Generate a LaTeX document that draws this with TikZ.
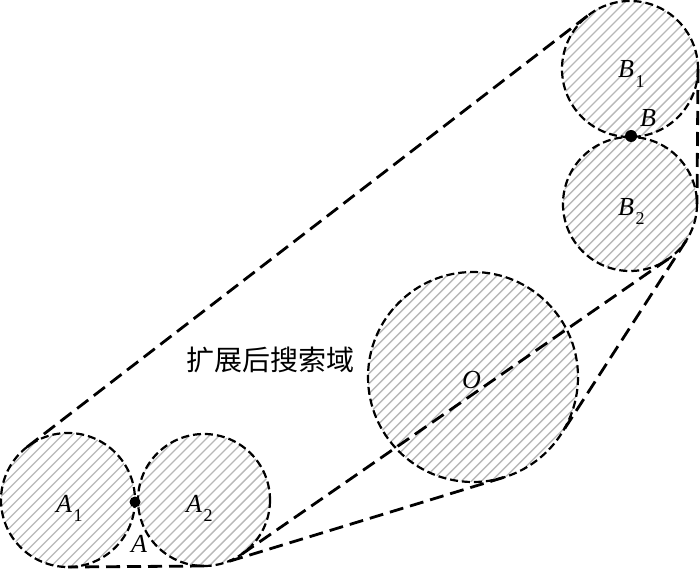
\documentclass[tikz,border=0pt]{standalone}
\usepackage{fontspec}
\setmainfont{Liberation Serif}
\newfontfamily\cjk{Noto Sans CJK SC}
\newcommand\sbx[1]{\kern1.5pt\raisebox{-0.36em}{\fontsize{18}{18}\selectfont\upshape #1}}
\newcommand\hatchdisc[3]{%
  \begin{scope}
    \clip (#1,#2) circle[radius=#3];
    \pgfmathsetmacro\ka{#1+#2-1.5*#3}
    \pgfmathsetmacro\kb{\ka+10}
    \pgfmathsetmacro\kc{#1+#2+1.5*#3}
    \foreach \k in {\ka,\kb,...,\kc}{
      \draw[hatchline] (\k-#2-#3-5, #2+#3+5) -- (\k-#2+#3+5, #2-#3-5);
    }
  \end{scope}}
\begin{document}
\begin{tikzpicture}[x=1pt,y=-1pt,
  circ/.style={draw=black, line width=2.2pt, dash pattern=on 8pt off 4pt},
  hull/.style={draw=black, line width=2.8pt, dash pattern=on 14pt off 7pt},
  hatchline/.style={draw=black!28, line width=1.4pt},
  lab/.style={font=\fontsize{26}{26}\selectfont\itshape, inner sep=0pt, anchor=base west},
  dotmark/.style={fill=black}
]
\useasboundingbox (0,0) rectangle (700,569);
% centres
\coordinate (cA1) at (68,500);
\coordinate (cA2) at (204,500);
\coordinate (cB1) at (630,69);
\coordinate (cB2) at (630,204);
\coordinate (cO)  at (473,377);
% hatching
\hatchdisc{68}{500}{67}
\hatchdisc{204}{500}{66}
\hatchdisc{630}{69}{68}
\hatchdisc{630}{204}{67}
\hatchdisc{473}{377}{105}
% circle outlines
\draw[circ] (cA1) circle[radius=67];
\draw[circ] (cA2) circle[radius=66];
\draw[circ] (cB1) circle[radius=68];
\draw[circ] (cB2) circle[radius=67];
\draw[circ] (cO)  circle[radius=105];
% tangent points
\coordinate (t1a) at (27.2,446.9);
\coordinate (t1b) at (588.5,15.1);
\coordinate (t2a) at (698,69);
\coordinate (t2b) at (697,204);
\coordinate (t3a) at (686.3,240.4);
\coordinate (t3b) at (561.2,434);
\coordinate (t4a) at (503.7,477.4);
\coordinate (t4b) at (223.3,563.1);
\coordinate (t5a) at (204,566);
\coordinate (t5b) at (68,567);
\coordinate (t6a) at (668.1,259.1);
\coordinate (t6b) at (241.6,554.3);
% extended search region outline
\draw[hull] (t1a) -- (t1b);
\draw[hull] (t2a) -- (t2b);
\draw[hull] (t3a) -- (t3b);
\draw[hull] (t4a) -- (t4b);
\draw[hull] (t5a) -- (t5b);
\draw[hull] (t6a) -- (t6b);
% points
\fill[dotmark] (135,502) circle[radius=5.5];
\fill[dotmark] (631,136) circle[radius=6];
% labels
\node[lab] (lA1) at (56,512) {A\sbx{1}};
\node[lab] (lA2) at (186,512) {A\sbx{2}};
\node[lab] (lA)  at (131,552) {A};
\node[lab] (lB1) at (618,78) {B\sbx{1}};
\node[lab] (lB)  at (640,127) {B};
\node[lab] (lB2) at (618,215) {B\sbx{2}};
\node[lab] (lO)  at (462,388) {O};
\node[font=\cjk\fontsize{28}{28}\selectfont, inner sep=0pt] (reg) at (270,360) {扩展后搜索域};
\end{tikzpicture}
\end{document}
